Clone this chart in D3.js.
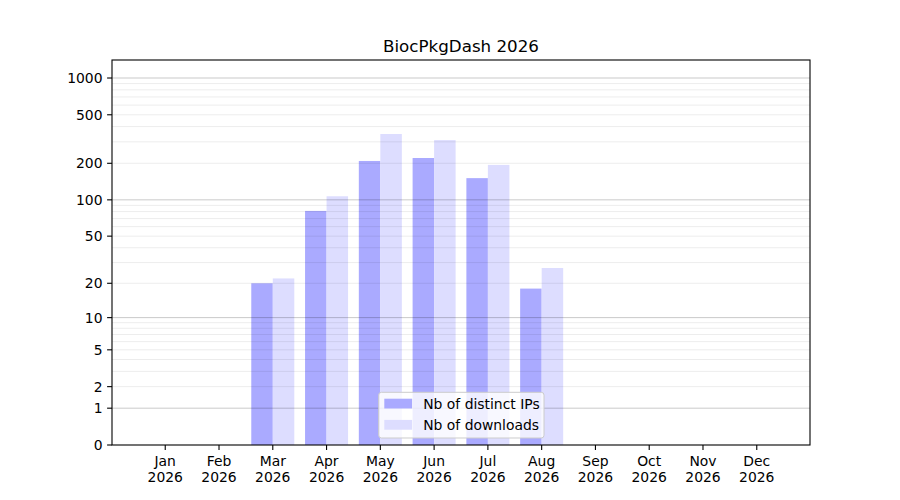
<!DOCTYPE html>
<html>
<head>
<meta charset="utf-8">
<script src="https://d3js.org/d3.v7.min.js"></script>
<style>
  body { margin: 0; background: #fff; }
  svg text { font-family: "DejaVu Sans", sans-serif; fill: #000; }
</style>
</head>
<body>
<svg width="900" height="500"></svg>
<script>
// chart data
var months = ["Jan", "Feb", "Mar", "Apr", "May", "Jun", "Jul", "Aug", "Sep", "Oct", "Nov", "Dec"];
var year = "2026";
var distinctIPs = [0, 0, 20, 81, 209, 221, 151, 18, 0, 0, 0, 0];
var downloads = [0, 0, 22, 107, 348, 310, 194, 27, 0, 0, 0, 0];
var yTicks = [0, 1, 2, 5, 10, 20, 50, 100, 200, 500, 1000];
var majorGrid = [1, 10, 100, 1000];
var minorGrid = [2, 3, 4, 5, 6, 7, 8, 9, 20, 30, 40, 50, 60, 70, 80, 90, 200, 300, 400, 500, 600, 700, 800, 900];
var seriesNames = ["Nb of distinct IPs", "Nb of downloads"];
var seriesColors = ["#aaaaff", "#ddddff"];

drawChart();

function drawChart() {
    var svg = d3.select("svg");
    var pLeft = 112, pRight = 810, pTop = 60, pBottom = 445;

    var x = d3.scaleLinear().domain([0.01, 12.99]).range([pLeft, pRight]);
    // values are drawn on log10(v + 1)
    var y = d3.scaleLog().domain([1, 1405]).range([pBottom, pTop]);
    function yv(v) { return y(v + 1); }

    var bw = x(0.4) - x(0);

    // bars
    var plot = svg.append("g");
    months.forEach(function(m, i) {
        var mx = x(i + 1);
        plot.append("rect")
            .attr("x", mx - bw).attr("width", bw)
            .attr("y", yv(distinctIPs[i])).attr("height", pBottom - yv(distinctIPs[i]))
            .attr("fill", seriesColors[0]);
        plot.append("rect")
            .attr("x", mx).attr("width", bw)
            .attr("y", yv(downloads[i])).attr("height", pBottom - yv(downloads[i]))
            .attr("fill", seriesColors[1]);
    });

    // grid on top of bars
    minorGrid.forEach(function(v) {
        svg.append("line")
            .attr("x1", pLeft).attr("x2", pRight)
            .attr("y1", yv(v)).attr("y2", yv(v))
            .attr("stroke", "#000").attr("stroke-opacity", 0.075).attr("stroke-width", 1);
    });
    majorGrid.forEach(function(v) {
        svg.append("line")
            .attr("x1", pLeft).attr("x2", pRight)
            .attr("y1", yv(v)).attr("y2", yv(v))
            .attr("stroke", "#000").attr("stroke-opacity", 0.21).attr("stroke-width", 1);
    });

    // frame
    svg.append("rect")
        .attr("x", pLeft).attr("y", pTop)
        .attr("width", pRight - pLeft).attr("height", pBottom - pTop)
        .attr("fill", "none").attr("stroke", "#000").attr("stroke-width", 1.1);

    // y axis ticks
    yTicks.forEach(function(v) {
        var ty = yv(v);
        svg.append("line")
            .attr("x1", pLeft - 4.9).attr("x2", pLeft)
            .attr("y1", ty).attr("y2", ty)
            .attr("stroke", "#000").attr("stroke-width", 1.1);
        svg.append("text")
            .attr("x", pLeft - 9.5).attr("y", ty)
            .attr("dy", "0.36em")
            .attr("text-anchor", "end")
            .style("font-size", "13.9px")
            .text(v);
    });

    // x axis ticks
    months.forEach(function(m, i) {
        var tx = x(i + 1);
        svg.append("line")
            .attr("x1", tx).attr("x2", tx)
            .attr("y1", pBottom).attr("y2", pBottom + 4.9)
            .attr("stroke", "#000").attr("stroke-width", 1.1);
        var t = svg.append("text")
            .attr("text-anchor", "middle")
            .style("font-size", "13.9px");
        t.append("tspan").attr("x", tx).attr("y", 465.5).text(m);
        t.append("tspan").attr("x", tx).attr("y", 481.5).text(year);
    });

    // title
    svg.append("text")
        .attr("x", (pLeft + pRight) / 2).attr("y", 52)
        .attr("text-anchor", "middle")
        .style("font-size", "16.7px")
        .text("BiocPkgDash " + year);

    // legend
    var lg = svg.append("g").attr("transform", "translate(378.7,392.3)");
    lg.append("rect")
        .attr("width", 165.3).attr("height", 45.7)
        .attr("rx", 2.8).attr("ry", 2.8)
        .attr("fill", "#fff").attr("fill-opacity", 0.8)
        .attr("stroke", "#ccc").attr("stroke-width", 1);
    seriesNames.forEach(function(name, i) {
        lg.append("rect")
            .attr("x", 5.6).attr("y", 6.4 + i * 21.2)
            .attr("width", 27.8).attr("height", 9.8)
            .attr("fill", seriesColors[i]);
        lg.append("text")
            .attr("x", 44.5).attr("y", 11.3 + i * 21.2)
            .attr("dy", "0.36em")
            .style("font-size", "13.9px")
            .text(name);
    });
}
</script>
</body>
</html>
